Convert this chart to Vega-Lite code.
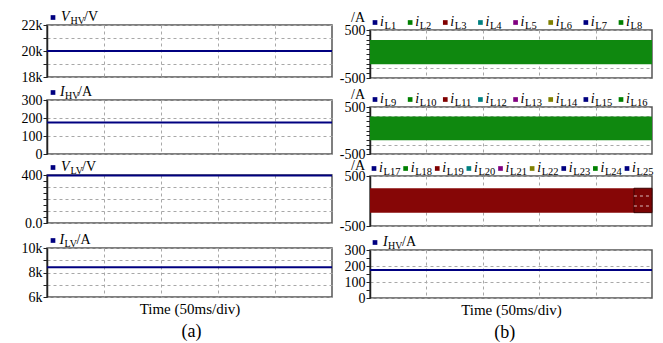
{
  "$schema": "https://vega.github.io/schema/vega-lite/v6.json",
  "background": "white",
  "padding": {"left": 20, "top": 0, "right": 5, "bottom": 5},
  "datasets": {
    "vhv": [{"t": 0, "v": 20000}, {"t": 250, "v": 20000}],
    "ihv": [{"t": 0, "v": 175}, {"t": 250, "v": 175}],
    "vlv": [{"t": 0, "v": 395}, {"t": 250, "v": 395}],
    "ilv": [{"t": 0, "v": 8420}, {"t": 250, "v": 8420}],
    "band1": [{"t0": 0, "t1": 250, "lo": -215, "hi": 290}],
    "band2": [{"t0": 0, "t1": 250, "lo": -210, "hi": 300}],
    "band3": [{"part": "main", "t0": 0, "t1": 234, "lo": -233, "hi": 255}, {"part": "tail", "t0": 234, "t1": 250, "lo": -233, "hi": 255}],
    "tailgrid": [{"t0": 234, "t1": 250, "v": 100}, {"t0": 234, "t1": 250, "v": -100}],
    "leg1": [{"name": "L1"}, {"name": "L2"}, {"name": "L3"}, {"name": "L4"}, {"name": "L5"}, {"name": "L6"}, {"name": "L7"}, {"name": "L8"}],
    "leg2": [{"name": "L9"}, {"name": "L10"}, {"name": "L11"}, {"name": "L12"}, {"name": "L13"}, {"name": "L14"}, {"name": "L15"}, {"name": "L16"}],
    "leg3": [{"name": "L17"}, {"name": "L18"}, {"name": "L19"}, {"name": "L20"}, {"name": "L21"}, {"name": "L22"}, {"name": "L23"}, {"name": "L24"}, {"name": "L25"}]
  },
  "spacing": 1,
  "hconcat": [
    {
      "spacing": 0,
      "bounds": "flush",
      "title": {"text": "(a)", "orient": "bottom", "anchor": "middle", "frame": "bounds", "offset": 6, "dx": 13},
      "vconcat": [
        {
          "width": 285, "height": 25, "view": {"stroke": null},
          "data": {"values": [{"name": "HV"}]},
          "encoding": {"x": {"field": "name", "type": "nominal", "scale": {"type": "point", "range": [6, 285], "padding": 0, "align": 0}, "axis": null}},
          "layer": [
            {"mark": {"type": "point", "shape": "square", "filled": true, "color": "#000080", "opacity": 1, "size": 22, "yOffset": 5}},
            {"mark": {"type": "text", "text": "V", "fontStyle": "italic", "fontSize": 14, "align": "left", "baseline": "alphabetic", "dx": 8, "dy": 8.5}},
            {"mark": {"type": "text", "fontSize": 10, "align": "left", "baseline": "alphabetic", "dx": 17.5, "dy": 11}, "encoding": {"text": {"field": "name"}}},
            {"mark": {"type": "text", "text": "/V", "fontSize": 14, "align": "left", "baseline": "alphabetic", "dx": 31, "dy": 8.5}}
          ]
        },
        {
          "width": 285, "height": 52,
          "data": {"name": "vhv"},
          "mark": {"type": "line", "color": "#000080", "strokeWidth": 2},
          "encoding": {
            "x": {"field": "t", "type": "quantitative", "scale": {"domain": [0, 250], "nice": false}, "axis": {"title": null, "values": [50, 100, 150, 200], "labels": false, "ticks": false, "domain": false}},
            "y": {"field": "v", "type": "quantitative", "scale": {"domain": [18000, 22000], "nice": false, "zero": false}, "axis": {"title": null, "values": [18000, 19000, 20000, 21000, 22000], "labelOverlap": false, "labelExpr": "datum.value % 2000 === 0 ? (datum.value / 1000) + 'k' : ''"}}
          }
        },
        {
          "width": 285, "height": 23, "view": {"stroke": null},
          "data": {"values": [{"name": "HV"}]},
          "encoding": {"x": {"field": "name", "type": "nominal", "scale": {"type": "point", "range": [6, 285], "padding": 0, "align": 0}, "axis": null}},
          "layer": [
            {"mark": {"type": "point", "shape": "square", "filled": true, "color": "#000080", "opacity": 1, "size": 22, "yOffset": 4}},
            {"mark": {"type": "text", "text": "I", "fontStyle": "italic", "fontSize": 14, "align": "left", "baseline": "alphabetic", "dx": 7, "dy": 7.5}},
            {"mark": {"type": "text", "fontSize": 10, "align": "left", "baseline": "alphabetic", "dx": 12, "dy": 10}, "encoding": {"text": {"field": "name"}}},
            {"mark": {"type": "text", "text": "/A", "fontSize": 14, "align": "left", "baseline": "alphabetic", "dx": 25, "dy": 7.5}}
          ]
        },
        {
          "width": 285, "height": 54,
          "data": {"name": "ihv"},
          "mark": {"type": "line", "color": "#000080", "strokeWidth": 2},
          "encoding": {
            "x": {"field": "t", "type": "quantitative", "scale": {"domain": [0, 250], "nice": false}, "axis": {"title": null, "values": [50, 100, 150, 200], "labels": false, "ticks": false, "domain": false}},
            "y": {"field": "v", "type": "quantitative", "scale": {"domain": [0, 300], "nice": false}, "axis": {"title": null, "values": [0, 100, 200, 300], "labelOverlap": false}}
          }
        },
        {
          "width": 285, "height": 21, "view": {"stroke": null},
          "data": {"values": [{"name": "LV"}]},
          "encoding": {"x": {"field": "name", "type": "nominal", "scale": {"type": "point", "range": [6, 285], "padding": 0, "align": 0}, "axis": null}},
          "layer": [
            {"mark": {"type": "point", "shape": "square", "filled": true, "color": "#000080", "opacity": 1, "size": 22, "yOffset": 3}},
            {"mark": {"type": "text", "text": "V", "fontStyle": "italic", "fontSize": 14, "align": "left", "baseline": "alphabetic", "dx": 8, "dy": 6.5}},
            {"mark": {"type": "text", "fontSize": 10, "align": "left", "baseline": "alphabetic", "dx": 17.5, "dy": 9}, "encoding": {"text": {"field": "name"}}},
            {"mark": {"type": "text", "text": "/V", "fontSize": 14, "align": "left", "baseline": "alphabetic", "dx": 29, "dy": 6.5}}
          ]
        },
        {
          "width": 285, "height": 48,
          "data": {"name": "vlv"},
          "mark": {"type": "line", "color": "#000080", "strokeWidth": 2},
          "encoding": {
            "x": {"field": "t", "type": "quantitative", "scale": {"domain": [0, 250], "nice": false}, "axis": {"title": null, "values": [50, 100, 150, 200], "labels": false, "ticks": false, "domain": false}},
            "y": {"field": "v", "type": "quantitative", "scale": {"domain": [0, 400], "nice": false}, "axis": {"title": null, "values": [0, 50, 100, 150, 200, 250, 300, 350, 400], "labelOverlap": false, "labelExpr": "datum.value === 400 ? '400' : datum.value === 0 ? '0.0' : ''", "gridOpacity": {"condition": {"test": "datum.value % 100 !== 0", "value": 0}, "value": 1}}}
          }
        },
        {
          "width": 285, "height": 25, "view": {"stroke": null},
          "data": {"values": [{"name": "LV"}]},
          "encoding": {"x": {"field": "name", "type": "nominal", "scale": {"type": "point", "range": [6, 285], "padding": 0, "align": 0}, "axis": null}},
          "layer": [
            {"mark": {"type": "point", "shape": "square", "filled": true, "color": "#000080", "opacity": 1, "size": 22, "yOffset": 5}},
            {"mark": {"type": "text", "text": "I", "fontStyle": "italic", "fontSize": 14, "align": "left", "baseline": "alphabetic", "dx": 6.5, "dy": 8.5}},
            {"mark": {"type": "text", "fontSize": 10, "align": "left", "baseline": "alphabetic", "dx": 11.5, "dy": 11}, "encoding": {"text": {"field": "name"}}},
            {"mark": {"type": "text", "text": "/A", "fontSize": 14, "align": "left", "baseline": "alphabetic", "dx": 23.5, "dy": 8.5}}
          ]
        },
        {
          "width": 285, "height": 49,
          "data": {"name": "ilv"},
          "mark": {"type": "line", "color": "#000080", "strokeWidth": 2},
          "encoding": {
            "x": {"field": "t", "type": "quantitative", "scale": {"domain": [0, 250], "nice": false}, "axis": {"title": "Time (50ms/div)", "titlePadding": 4, "values": [50, 100, 150, 200], "labels": false, "ticks": false, "domain": false}},
            "y": {"field": "v", "type": "quantitative", "scale": {"domain": [6000, 10000], "nice": false, "zero": false}, "axis": {"title": null, "values": [6000, 7000, 8000, 9000, 10000], "labelOverlap": false, "labelExpr": "datum.value % 2000 === 0 ? (datum.value / 1000) + 'k' : ''"}}
          }
        }
      ]
    },
    {
      "spacing": 0,
      "bounds": "flush",
      "title": {"text": "(b)", "orient": "bottom", "anchor": "middle", "frame": "bounds", "offset": 6, "dx": 7},
      "vconcat": [
        {
          "width": 282, "height": 30, "view": {"stroke": null},
          "data": {"name": "leg1"},
          "encoding": {"x": {"field": "name", "type": "nominal", "scale": {"type": "point", "domain": ["L1", "L2", "L3", "L4", "L5", "L6", "L7", "L8"], "range": [5, 251], "padding": 0, "align": 0}, "axis": null}},
          "layer": [
            {"transform": [{"filter": "datum.name === 'L1'"}], "mark": {"type": "text", "text": "/A", "fontSize": 14, "align": "right", "baseline": "alphabetic", "dx": -10, "dy": 7}},
            {"mark": {"type": "point", "shape": "square", "filled": true, "opacity": 1, "size": 22, "yOffset": 7.5}, "encoding": {"color": {"field": "name", "type": "nominal", "legend": null, "scale": {"domain": ["L1", "L2", "L3", "L4", "L5", "L6", "L7", "L8"], "range": ["#000080", "#008000", "#800000", "#008080", "#800080", "#808000", "#000080", "#008000"]}}}},
            {"mark": {"type": "text", "text": "i", "fontStyle": "italic", "fontSize": 14, "align": "left", "baseline": "alphabetic", "dx": 5, "dy": 11}},
            {"mark": {"type": "text", "fontSize": 10.5, "align": "left", "baseline": "alphabetic", "dx": 9.5, "dy": 13.5}, "encoding": {"text": {"field": "name"}}}
          ]
        },
        {
          "width": 282, "height": 48,
          "data": {"name": "band1"},
          "mark": {"type": "rect", "color": "#0f880f"},
          "encoding": {
            "x": {"field": "t0", "type": "quantitative", "scale": {"domain": [0, 250], "nice": false}, "axis": {"title": null, "values": [50, 100, 150, 200], "labels": false, "ticks": false, "domain": false}},
            "x2": {"field": "t1"},
            "y": {"field": "lo", "type": "quantitative", "scale": {"domain": [-500, 500], "nice": false}, "axis": {"title": null, "values": [-500, -400, -300, -200, -100, 0, 100, 200, 300, 400, 500], "labelOverlap": false, "labelExpr": "datum.value === 500 ? '500' : datum.value === -500 ? '-500' : ''", "gridOpacity": {"condition": {"test": "datum.value % 200 === 0", "value": 0}, "value": 1}}},
            "y2": {"field": "hi"}
          }
        },
        {
          "width": 282, "height": 29, "view": {"stroke": null},
          "data": {"name": "leg2"},
          "encoding": {"x": {"field": "name", "type": "nominal", "scale": {"type": "point", "domain": ["L9", "L10", "L11", "L12", "L13", "L14", "L15", "L16"], "range": [5, 251], "padding": 0, "align": 0}, "axis": null}},
          "layer": [
            {"transform": [{"filter": "datum.name === 'L9'"}], "mark": {"type": "text", "text": "/A", "fontSize": 14, "align": "right", "baseline": "alphabetic", "dx": -10, "dy": 6.5}},
            {"mark": {"type": "point", "shape": "square", "filled": true, "opacity": 1, "size": 22, "yOffset": 7}, "encoding": {"color": {"field": "name", "type": "nominal", "legend": null, "scale": {"domain": ["L9", "L10", "L11", "L12", "L13", "L14", "L15", "L16"], "range": ["#000080", "#008000", "#800000", "#008080", "#800080", "#808000", "#000080", "#008000"]}}}},
            {"mark": {"type": "text", "text": "i", "fontStyle": "italic", "fontSize": 14, "align": "left", "baseline": "alphabetic", "dx": 5, "dy": 10.5}},
            {"mark": {"type": "text", "fontSize": 10.5, "align": "left", "baseline": "alphabetic", "dx": 9.5, "dy": 13}, "encoding": {"text": {"field": "name"}}}
          ]
        },
        {
          "width": 282, "height": 47,
          "data": {"name": "band2"},
          "mark": {"type": "rect", "color": "#0f880f"},
          "encoding": {
            "x": {"field": "t0", "type": "quantitative", "scale": {"domain": [0, 250], "nice": false}, "axis": {"title": null, "values": [50, 100, 150, 200], "labels": false, "ticks": false, "domain": false}},
            "x2": {"field": "t1"},
            "y": {"field": "lo", "type": "quantitative", "scale": {"domain": [-500, 500], "nice": false}, "axis": {"title": null, "values": [-500, -400, -300, -200, -100, 0, 100, 200, 300, 400, 500], "labelOverlap": false, "labelExpr": "datum.value === 500 ? '500' : datum.value === -500 ? '-500' : ''", "gridOpacity": {"condition": {"test": "datum.value % 200 === 0", "value": 0}, "value": 1}}},
            "y2": {"field": "hi"}
          }
        },
        {
          "width": 282, "height": 22, "view": {"stroke": null},
          "data": {"name": "leg3"},
          "encoding": {"x": {"field": "name", "type": "nominal", "scale": {"type": "point", "domain": ["L17", "L18", "L19", "L20", "L21", "L22", "L23", "L24", "L25"], "range": [4, 257], "padding": 0, "align": 0}, "axis": null}},
          "layer": [
            {"transform": [{"filter": "datum.name === 'L17'"}], "mark": {"type": "text", "text": "/A", "fontSize": 14, "align": "right", "baseline": "alphabetic", "dx": -9, "dy": 5}},
            {"mark": {"type": "point", "shape": "square", "filled": true, "opacity": 1, "size": 22, "yOffset": 3.5}, "encoding": {"color": {"field": "name", "type": "nominal", "legend": null, "scale": {"domain": ["L17", "L18", "L19", "L20", "L21", "L22", "L23", "L24", "L25"], "range": ["#000080", "#008000", "#800000", "#008080", "#800080", "#808000", "#000080", "#008000", "#800000"]}}}},
            {"mark": {"type": "text", "text": "i", "fontStyle": "italic", "fontSize": 14, "align": "left", "baseline": "alphabetic", "dx": 5, "dy": 7}},
            {"mark": {"type": "text", "fontSize": 10.5, "align": "left", "baseline": "alphabetic", "dx": 9.5, "dy": 9.5}, "encoding": {"text": {"field": "name"}}}
          ]
        },
        {
          "width": 282, "height": 50,
          "layer": [
            {
              "data": {"name": "band3"},
              "transform": [{"filter": "datum.part === 'main'"}],
              "mark": {"type": "rect", "color": "#860606"},
              "encoding": {
                "x": {"field": "t0", "type": "quantitative", "scale": {"domain": [0, 250], "nice": false}, "axis": {"title": null, "values": [50, 100, 150, 200], "labels": false, "ticks": false, "domain": false}},
                "x2": {"field": "t1"},
                "y": {"field": "lo", "type": "quantitative", "scale": {"domain": [-500, 500], "nice": false}, "axis": {"title": null, "values": [-500, -400, -300, -200, -100, 0, 100, 200, 300, 400, 500], "labelOverlap": false, "labelExpr": "datum.value === 500 ? '500' : datum.value === -500 ? '-500' : ''", "gridOpacity": {"condition": {"test": "datum.value % 200 === 0", "value": 0}, "value": 1}}},
                "y2": {"field": "hi"}
              }
            },
            {
              "data": {"name": "band3"},
              "transform": [{"filter": "datum.part === 'tail'"}],
              "mark": {"type": "rect", "color": "#7a0404", "stroke": "#3a0000", "strokeWidth": 1},
              "encoding": {
                "x": {"field": "t0", "type": "quantitative"},
                "x2": {"field": "t1"},
                "y": {"field": "lo", "type": "quantitative"},
                "y2": {"field": "hi"}
              }
            },
            {
              "data": {"name": "tailgrid"},
              "mark": {"type": "rule", "color": "#d8b8b8", "strokeDash": [3, 3], "strokeWidth": 1},
              "encoding": {
                "x": {"field": "t0", "type": "quantitative"},
                "x2": {"field": "t1"},
                "y": {"field": "v", "type": "quantitative"}
              }
            }
          ]
        },
        {
          "width": 282, "height": 24, "view": {"stroke": null},
          "data": {"values": [{"name": "HV"}]},
          "encoding": {"x": {"field": "name", "type": "nominal", "scale": {"type": "point", "range": [5, 282], "padding": 0, "align": 0}, "axis": null}},
          "layer": [
            {"mark": {"type": "point", "shape": "square", "filled": true, "color": "#000080", "opacity": 1, "size": 22, "yOffset": 4.5}},
            {"mark": {"type": "text", "text": "I", "fontStyle": "italic", "fontSize": 14, "align": "left", "baseline": "alphabetic", "dx": 8, "dy": 8}},
            {"mark": {"type": "text", "fontSize": 10, "align": "left", "baseline": "alphabetic", "dx": 13, "dy": 10.5}, "encoding": {"text": {"field": "name"}}},
            {"mark": {"type": "text", "text": "/A", "fontSize": 14, "align": "left", "baseline": "alphabetic", "dx": 27, "dy": 8}}
          ]
        },
        {
          "width": 282, "height": 48,
          "data": {"name": "ihv"},
          "mark": {"type": "line", "color": "#000080", "strokeWidth": 2},
          "encoding": {
            "x": {"field": "t", "type": "quantitative", "scale": {"domain": [0, 250], "nice": false}, "axis": {"title": "Time (50ms/div)", "titlePadding": 4, "values": [50, 100, 150, 200], "labels": false, "ticks": false, "domain": false}},
            "y": {"field": "v", "type": "quantitative", "scale": {"domain": [0, 300], "nice": false}, "axis": {"title": null, "values": [0, 50, 100, 150, 200, 250, 300], "labelOverlap": false, "labelExpr": "datum.value % 100 === 0 ? datum.label : ''", "gridOpacity": {"condition": {"test": "datum.value % 100 !== 0", "value": 0}, "value": 1}}}
          }
        }
      ]
    }
  ],
  "config": {
    "font": "Liberation Serif",
    "view": {"stroke": "#555555", "strokeWidth": 1.5},
    "axis": {"labelFont": "Liberation Serif", "labelFontSize": 14, "labelColor": "#000000", "labelPadding": 1, "tickColor": "#222222", "tickSize": 4, "tickWidth": 1, "domainColor": "#222222", "domainWidth": 1.5, "gridColor": "#a8a8a8", "gridDash": [3, 3], "gridWidth": 1, "titleFont": "Liberation Serif", "titleFontSize": 15, "titleFontWeight": "normal", "titleColor": "#000000"},
    "title": {"font": "Liberation Serif", "fontSize": 18, "fontWeight": "normal", "color": "#000000"},
    "text": {"font": "Liberation Serif", "color": "#000000"}
  }
}
